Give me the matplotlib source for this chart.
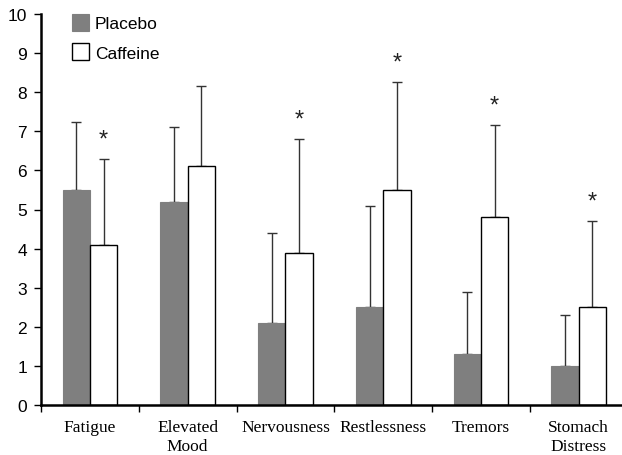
import numpy as np
import matplotlib
matplotlib.use("Agg")
import matplotlib.pyplot as plt

# data
categories = ["Fatigue", "Elevated\nMood", "Nervousness", "Restlessness", "Tremors", "Stomach\nDistress"]
placebo = [5.5, 5.2, 2.1, 2.5, 1.3, 1.0]
placebo_err = [1.75, 1.9, 2.3, 2.6, 1.6, 1.3]
caffeine = [4.1, 6.1, 3.9, 5.5, 4.8, 2.5]
caffeine_err = [2.2, 2.05, 2.9, 2.75, 2.35, 2.2]
significant = [True, False, True, True, True, True]
yticks = list(range(0, 11))

W, H = 622, 456
fig = plt.figure(figsize=(W / 100, H / 100), dpi=100)
left, right, top, bottom = 41, 627.7, 15, 406
ax = fig.add_axes([left / W, (H - bottom) / H, (right - left) / W, (bottom - top) / H])

x = np.arange(len(categories))
bw = 0.28
ax.bar(x - bw / 2, placebo, bw, color="#7f7f7f", edgecolor="#7f7f7f", linewidth=0.8, label="Placebo", zorder=2)
ax.bar(x + bw / 2, caffeine, bw, color="white", edgecolor="black", linewidth=1.0, label="Caffeine", zorder=2)

ekw = dict(fmt="none", ecolor="#333333", elinewidth=1.0, capsize=3.5, capthick=1.0, zorder=1)
ax.errorbar(x - bw / 2, placebo, yerr=[np.zeros(len(x)), placebo_err], **ekw)
ax.errorbar(x + bw / 2, caffeine, yerr=[np.zeros(len(x)), caffeine_err], **ekw)

for xi, c, e, s in zip(x, caffeine, caffeine_err, significant):
    if s:
        ax.text(xi + bw / 2, c + e + 0.22, "*", ha="center", va="bottom",
                fontsize=17, family="Liberation Sans", color="#222222")

ax.set_xlim(-0.5, len(categories) - 0.5)
ax.set_ylim(0, 10)
ax.set_yticks(yticks)
ax.set_yticklabels([str(t) for t in yticks])
for lab in ax.get_yticklabels():
    lab.set_fontfamily("Liberation Sans")
    lab.set_fontsize(12.5)
ax.set_xticks(x - 0.5)
ax.set_xticklabels([])
ax.set_xticks(x, minor=True)
ax.set_xticklabels(categories, minor=True)
for lab in ax.get_xticklabels(minor=True):
    lab.set_fontfamily("Liberation Serif")
    lab.set_fontsize(12.5)
    lab.set_linespacing(1.3)
ax.tick_params(axis="x", which="minor", length=0, pad=10)
ax.tick_params(axis="x", which="major", length=5, width=1, direction="out")
ax.tick_params(axis="y", length=5, width=1, direction="out", pad=5)

for s in ["top", "right"]:
    ax.spines[s].set_visible(False)
for s in ["left", "bottom"]:
    ax.spines[s].set_linewidth(1.8)

leg = ax.legend(loc="upper left", bbox_to_anchor=(0.027, 1.04), frameon=False,
                prop={"family": "Liberation Sans", "size": 12.5},
                handlelength=0.95, handleheight=1.1, handletextpad=0.35, labelspacing=0.7)

fig.savefig("out.png", dpi=100)
